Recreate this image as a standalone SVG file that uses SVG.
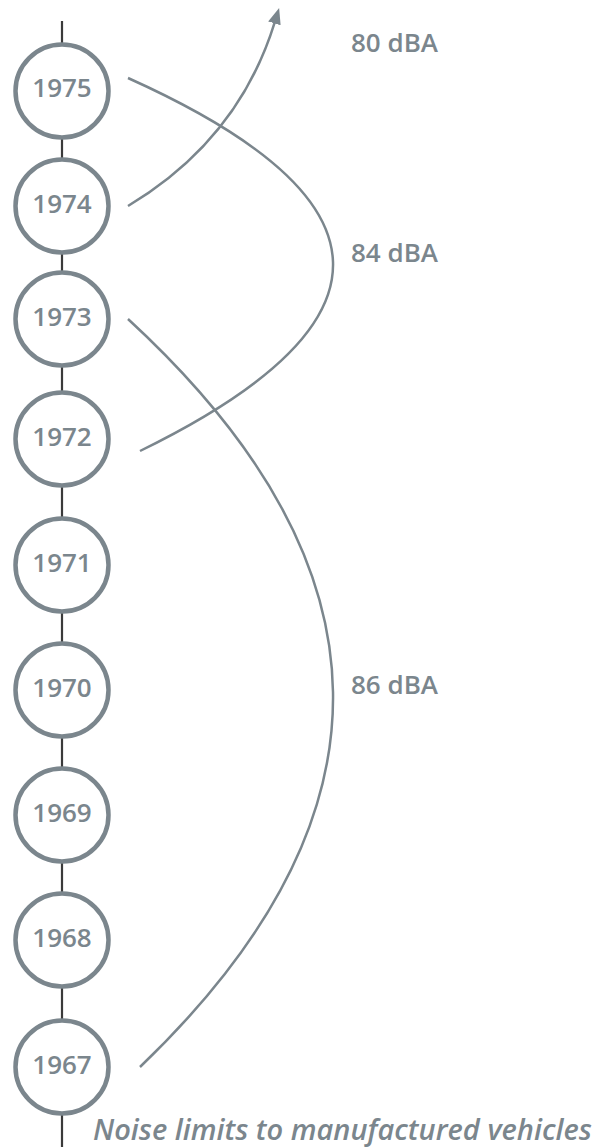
<svg xmlns="http://www.w3.org/2000/svg" width="613" height="1147" viewBox="0 0 613 1147">
<style>
.node circle{fill:#ffffff;stroke:#7b868d;stroke-width:4.5}
.node text{font-family:"Open Sans","Liberation Sans",sans-serif;font-size:26px;font-weight:600;fill:#7b868d;text-anchor:middle}
.lbl{font-family:"Open Sans","Liberation Sans",sans-serif;font-size:26px;font-weight:600;fill:#7b868d}
.conn{fill:none;stroke:#7b868d;stroke-width:2.5}
.axis{stroke:#3a3a3a;stroke-width:2.2}
.title{font-family:"Open Sans","Liberation Sans",sans-serif;font-size:29px;font-weight:600;font-style:italic;fill:#7b868d}
</style>
<defs>
<marker id="ah" markerUnits="userSpaceOnUse" markerWidth="16" markerHeight="13" refX="1" refY="6.5" orient="auto">
<path d="M0,0 L16,6.5 L0,13 z" fill="#7b868d"/>
</marker>
</defs>
<line class="axis" x1="62" y1="21" x2="62" y2="1147"/>
<g id="connectors">
<path class="conn" d="M128,206 Q238.5,139.7 274.7,22.4" marker-end="url(#ah)"/>
<path class="conn" d="M128,78 Q532,259.5 140,451"/>
<path class="conn" d="M128,319 Q532,691 140,1067"/>
</g>
<g id="n1975" class="node"><circle cx="62" cy="91" r="46.5"/><text x="62" y="97">1975</text></g>
<g id="n1974" class="node"><circle cx="62" cy="206" r="46.5"/><text x="62" y="213">1974</text></g>
<g id="n1973" class="node"><circle cx="62" cy="319" r="46.5"/><text x="62" y="326">1973</text></g>
<g id="n1972" class="node"><circle cx="62" cy="439" r="46.5"/><text x="62" y="446">1972</text></g>
<g id="n1971" class="node"><circle cx="62" cy="565" r="46.5"/><text x="62" y="572">1971</text></g>
<g id="n1970" class="node"><circle cx="62" cy="690" r="46.5"/><text x="62" y="697">1970</text></g>
<g id="n1969" class="node"><circle cx="62" cy="815" r="46.5"/><text x="62" y="822">1969</text></g>
<g id="n1968" class="node"><circle cx="62" cy="940" r="46.5"/><text x="62" y="947">1968</text></g>
<g id="n1967" class="node"><circle cx="62" cy="1067" r="46.5"/><text x="62" y="1074">1967</text></g>
<g id="labels">
<text class="lbl" x="351" y="52">80 dBA</text>
<text class="lbl" x="351" y="262">84 dBA</text>
<text class="lbl" x="351" y="694">86 dBA</text>
</g>
<text class="title" x="93" y="1140">Noise limits to manufactured vehicles</text>
</svg>
